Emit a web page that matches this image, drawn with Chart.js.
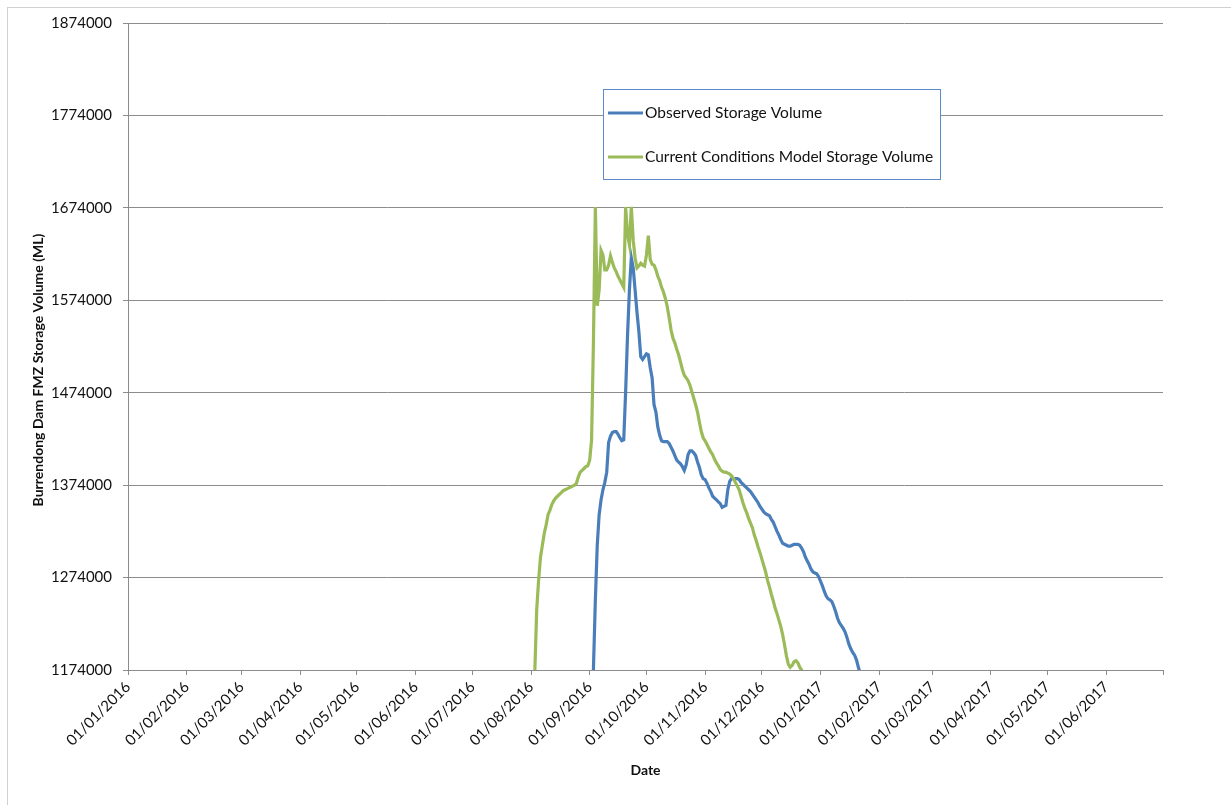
<!DOCTYPE html>
<html>
<head>
<meta charset="utf-8">
<title>Burrendong Dam FMZ Storage Volume</title>
<script src="https://cdn.jsdelivr.net/npm/chart.js@4.4.1/dist/chart.umd.min.js"></script>
<style>
    body { margin: 0; background: #fff; }
    #wrap { position: relative; width: 1231px; height: 805px; }
</style>
</head>
<body>
<div id="wrap"><canvas id="myChart"></canvas></div>
<script>
// Datos (valores diarios en ML)
const xTickLabels = ['01/01/2016', '01/02/2016', '01/03/2016', '01/04/2016', '01/05/2016', '01/06/2016',
    '01/07/2016', '01/08/2016', '01/09/2016', '01/10/2016', '01/11/2016', '01/12/2016',
    '01/01/2017', '01/02/2017', '01/03/2017', '01/04/2017', '01/05/2017', '01/06/2017'];
const xEnd = '01/07/2017';
const yTicks = [1174000, 1274000, 1374000, 1474000, 1574000, 1674000, 1774000, 1874000];

const seriesNames = ['Observed Storage Volume', 'Current Conditions Model Storage Volume'];
const yTitle = 'Burrendong Dam FMZ Storage Volume (ML)';

// Observed: un valor por dia desde observedStart
const observedStart = '02/09/2016';
const observedValues = [
    1100000, 1176000, 1250000, 1309000, 1342000, 1358000, 1369000, 1377000, 1388000, 1420000,
    1427000, 1431000, 1432000, 1432000, 1429000, 1425000, 1422000, 1423000, 1475000, 1536000,
    1585000, 1620000, 1609000, 1585000, 1561000, 1540000, 1513000, 1510000, 1513000, 1516000,
    1515000, 1501000, 1490000, 1461000, 1453000, 1437000, 1428000, 1422000, 1421000, 1421000,
    1421000, 1419000, 1415000, 1411000, 1406000, 1401000, 1399000, 1397000, 1394000, 1390000,
    1396000, 1407000, 1411000, 1411000, 1409000, 1406000, 1399000, 1393000, 1385000, 1381000,
    1380000, 1376000, 1371000, 1367000, 1362000, 1360000, 1358000, 1356000, 1354000, 1350000,
    1351000, 1352000, 1369000, 1378000, 1381000, 1381000, 1381000, 1381000, 1380000, 1377000,
    1375000, 1373000, 1371000, 1369000, 1367000, 1364000, 1361000, 1358000, 1355000, 1351000,
    1348000, 1345000, 1343000, 1342000, 1341000, 1337000, 1334000, 1329000, 1324000, 1320000,
    1315000, 1311000, 1310000, 1309000, 1308000, 1308000, 1309000, 1310000, 1310000, 1310000,
    1309000, 1306000, 1302000, 1296000, 1292000, 1288000, 1283000, 1280000, 1279000, 1278000,
    1275000, 1270000, 1265000, 1259000, 1254000, 1251000, 1250000, 1248000, 1243000, 1237000,
    1230000, 1225000, 1222000, 1219000, 1215000, 1209000, 1202000, 1197000, 1193000, 1190000,
    1185000, 1177000, 1170000, 1160000
];

// Modelo: un valor por dia desde modelStart
const modelStart = '02/08/2016';
const modelValues = [
    1150000, 1172000, 1239000, 1271000, 1296000, 1309000, 1322000, 1331000, 1342000, 1347000,
    1353000, 1357000, 1360000, 1362000, 1364000, 1366000, 1368000, 1369000, 1370000, 1371000,
    1372000, 1373000, 1374000, 1376000, 1383000, 1388000, 1390000, 1392000, 1394000, 1395000,
    1401000, 1423000, 1531000, 1675000, 1568000, 1585000, 1628000, 1623000, 1607000, 1607000,
    1612000, 1622000, 1615000, 1609000, 1605000, 1600000, 1596000, 1592000, 1588000, 1675000,
    1645000, 1634000, 1675000, 1639000, 1620000, 1609000, 1611000, 1614000, 1612000, 1611000,
    1623000, 1644000, 1618000, 1613000, 1612000, 1607000, 1600000, 1595000, 1588000, 1583000,
    1576000, 1567000, 1555000, 1542000, 1533000, 1528000, 1521000, 1515000, 1507000, 1499000,
    1493000, 1490000, 1487000, 1482000, 1475000, 1468000, 1461000, 1453000, 1442000, 1432000,
    1425000, 1422000, 1418000, 1414000, 1410000, 1407000, 1402000, 1398000, 1395000, 1391000,
    1389000, 1388000, 1388000, 1387000, 1386000, 1384000, 1381000, 1377000, 1373000, 1369000,
    1362000, 1355000, 1349000, 1344000, 1338000, 1333000, 1328000, 1320000, 1314000, 1307000,
    1301000, 1294000, 1287000, 1280000, 1271000, 1264000, 1256000, 1249000, 1241000, 1235000,
    1228000, 1221000, 1212000, 1201000, 1189000, 1180000, 1177000, 1179000, 1183000, 1184000,
    1182000, 1177000, 1174000, 1167000, 1155000
];

const colors = ['#4a7ebb', '#9bbb59'];

// dias desde 01/01/2016
function dayOf(s) {
    const p = s.split('/').map(Number);
    return (Date.UTC(p[2], p[1] - 1, p[0]) - Date.UTC(2016, 0, 1)) / 86400000;
}
function fmt(day) {
    const dt = new Date(Date.UTC(2016, 0, 1) + day * 86400000);
    const pad = n => (n < 10 ? '0' : '') + n;
    return pad(dt.getUTCDate()) + '/' + pad(dt.getUTCMonth() + 1) + '/' + dt.getUTCFullYear();
}
function toPoints(start, values) {
    const d0 = dayOf(start);
    return values.map((v, i) => ({ x: d0 + i, y: v }));
}

const fontFam = 'Lato, "Open Sans", sans-serif';
Chart.defaults.font.family = fontFam;
Chart.defaults.font.size = 15;
Chart.defaults.color = '#111';

const gridColor = '#8c8c8c';

// leyenda dentro del grafico, titulo del eje Y y borde exterior
const boxPlugin = {
    id: 'boxPlugin',
    beforeDraw(chart) {
        const ctx = chart.ctx;
        ctx.save();
        ctx.strokeStyle = '#d0d0d0';
        ctx.lineWidth = 1;
        ctx.strokeRect(7.5, 7.5, 1300, 900);
        ctx.restore();
    },
    afterDraw(chart) {
        const ctx = chart.ctx;
        ctx.save();
        ctx.translate(38, 370);
        ctx.rotate(-Math.PI / 2);
        ctx.font = 'bold 14px ' + fontFam;
        ctx.fillStyle = '#111';
        ctx.textAlign = 'center';
        ctx.textBaseline = 'middle';
        ctx.fillText(yTitle, 0, 0);
        ctx.restore();
    },
    afterDatasetsDraw(chart) {
        const ctx = chart.ctx;
        ctx.save();
        ctx.fillStyle = '#fff';
        ctx.fillRect(603.5, 89.5, 337, 90);
        ctx.strokeStyle = '#5b8bc8';
        ctx.lineWidth = 1;
        ctx.strokeRect(603.5, 89.5, 337, 90);
        ctx.font = '15.5px ' + fontFam;
        ctx.textBaseline = 'middle';
        chart.data.datasets.forEach((ds, i) => {
            const y = 113 + i * 44;
            ctx.strokeStyle = ds.borderColor;
            ctx.lineWidth = 3;
            ctx.beginPath();
            ctx.moveTo(608, y);
            ctx.lineTo(643, y);
            ctx.stroke();
            ctx.fillStyle = '#111';
            ctx.fillText(ds.label, 645, y);
        });
        ctx.restore();
    }
};

const config = {
    type: 'line',
    data: {
        datasets: [{
            label: seriesNames[0],
            data: toPoints(observedStart, observedValues),
            borderColor: colors[0],
            borderWidth: 3.2,
            pointRadius: 0,
            clip: 0,
            order: 1
        }, {
            label: seriesNames[1],
            data: toPoints(modelStart, modelValues),
            borderColor: colors[1],
            borderWidth: 3.2,
            pointRadius: 0,
            clip: 0,
            order: 0
        }]
    },
    options: {
        responsive: true,
        maintainAspectRatio: false,
        animation: false,
        layout: { padding: { left: 22, right: 68, top: 23, bottom: 22 } },
        plugins: {
            legend: { display: false },
            tooltip: { enabled: false }
        },
        scales: {
            x: {
                type: 'linear',
                min: dayOf(xTickLabels[0]),
                max: dayOf(xEnd),
                afterBuildTicks: axis => {
                    axis.ticks = xTickLabels.concat([xEnd]).map(s => ({ value: dayOf(s) }));
                },
                afterFit: s => { s.height = 113; },
                grid: { drawOnChartArea: false, drawTicks: true, tickLength: 5, color: gridColor },
                border: { display: true, color: gridColor },
                ticks: {
                    autoSkip: false,
                    minRotation: 45,
                    maxRotation: 45,
                    padding: 3,
                    callback: v => (xTickLabels.includes(fmt(v)) ? fmt(v) : '')
                },
                title: {
                    display: true,
                    text: 'Date',
                    font: { weight: 'bold', size: 14 },
                    padding: { top: 4, bottom: 4 }
                }
            },
            y: {
                min: yTicks[0],
                max: yTicks[yTicks.length - 1],
                afterBuildTicks: axis => {
                    axis.ticks = yTicks.map(v => ({ value: v }));
                },
                afterFit: s => { s.width = 106; },
                grid: { color: gridColor, tickLength: 5, drawTicks: true },
                border: { display: true, color: gridColor },
                ticks: { padding: 11, callback: v => String(v) }
            }
        }
    },
    plugins: [boxPlugin]
};

var myChart = new Chart(document.getElementById('myChart'), config);
</script>
</body>
</html>
